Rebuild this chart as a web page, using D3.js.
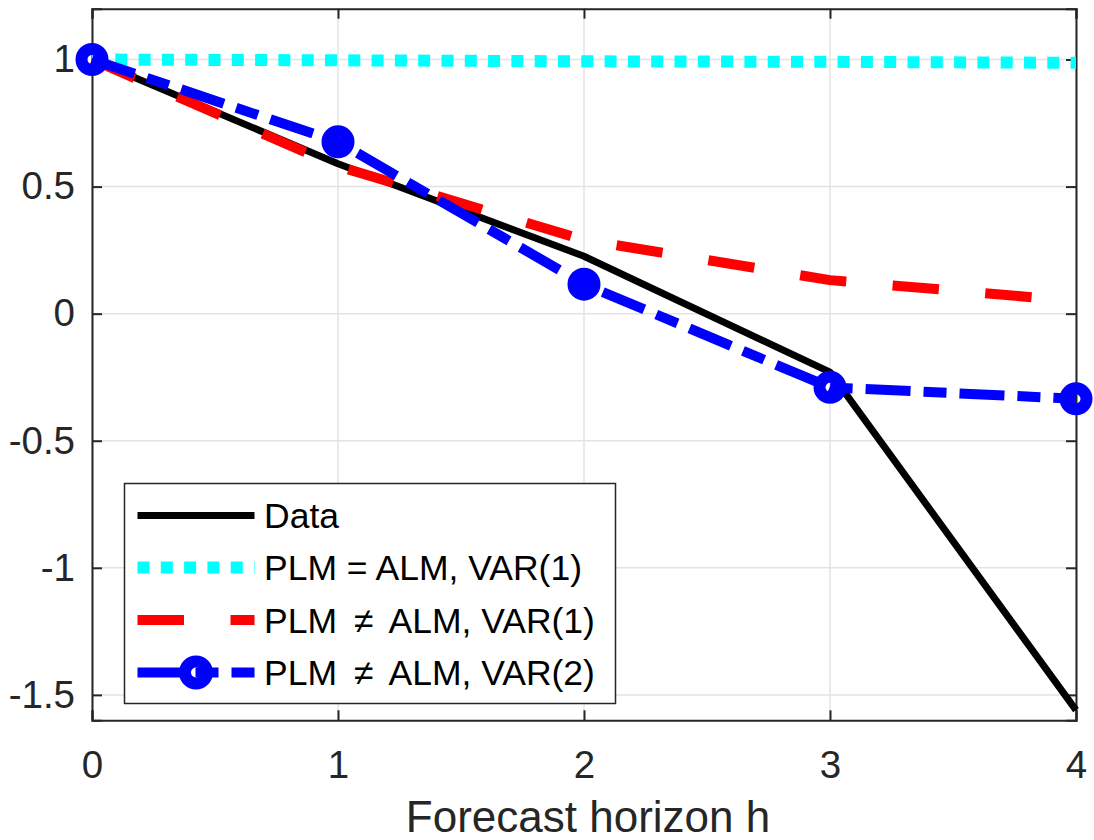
<!DOCTYPE html>
<html>
<head>
<meta charset="UTF-8">
<script src="https://d3js.org/d3.v7.min.js"></script>
<style>
  body { margin: 0; background: #fff; }
  text { font-family: "Liberation Sans", Arial, Helvetica, sans-serif; fill: #262626; }
</style>
</head>
<body>
<div id="chart"></div>
<script>
// horizons and series
const horizons = [0, 1, 2, 3, 4];
const dataSeries = [1, 0.59, 0.226, -0.23, -1.56];
const plmEqAlmVar1 = [1, 0.997, 0.993, 0.991, 0.987];
const plmNeAlmVar1 = [1, 0.58, 0.29, 0.132, 0.05];
const plmNeAlmVar2 = [1, 0.676, 0.116, -0.29, -0.335];
const xTicks = [0, 1, 2, 3, 4];
const yTicks = [-1.5, -1, -0.5, 0, 0.5, 1];
const legendLabels = ["Data", "PLM = ALM, VAR(1)", "PLM \u2009\u2260\u2009 ALM, VAR(1)", "PLM \u2009\u2260\u2009 ALM, VAR(2)"];

const W = 1094, H = 840;
const pLeft = 92, pRight = 1076, pTop = 8.7, pBottom = 720.3;

const svg = d3.select("#chart").append("svg")
  .attr("width", W).attr("height", H);

const x = d3.scaleLinear().domain([0, 4]).range([pLeft, pRight]);
const y = d3.scaleLinear().domain([-1.6, 1.2]).range([pBottom, pTop]);

// grid
const grid = svg.append("g");
grid.selectAll(".gx").data(xTicks).enter().append("line")
  .attr("x1", d => x(d)).attr("x2", d => x(d))
  .attr("y1", pTop).attr("y2", pBottom)
  .attr("stroke", "#e3e3e3").attr("stroke-width", 1.5);
grid.selectAll(".gy").data(yTicks).enter().append("line")
  .attr("y1", d => y(d)).attr("y2", d => y(d))
  .attr("x1", pLeft).attr("x2", pRight)
  .attr("stroke", "#e3e3e3").attr("stroke-width", 1.5);

// axes, ticks inside on all four sides
const fs = 38.5;
svg.append("g").attr("transform", `translate(0,${pBottom})`)
  .call(d3.axisBottom(x).tickValues(xTicks).tickSize(-10).tickPadding(30).tickFormat(d3.format("d")));
svg.append("g").attr("transform", `translate(${pLeft},0)`)
  .call(d3.axisLeft(y).tickValues(yTicks).tickSize(-10).tickPadding(17).tickFormat(d => String(d)));
svg.append("g").attr("transform", `translate(0,${pTop})`)
  .call(d3.axisTop(x).tickValues(xTicks).tickSize(-10).tickFormat(""));
svg.append("g").attr("transform", `translate(${pRight},0)`)
  .call(d3.axisRight(y).tickValues(yTicks).tickSize(-10).tickFormat(""));

svg.selectAll(".domain").attr("stroke", "#262626").attr("stroke-width", 2);
svg.selectAll(".tick line").attr("stroke", "#262626").attr("stroke-width", 2);
svg.selectAll(".tick text").style("font-size", fs + "px")
  .style("font-family", "'Liberation Sans', Arial, sans-serif").attr("fill", "#262626");

svg.append("text")
  .attr("x", (pLeft + pRight) / 2 + 4).attr("y", 832)
  .attr("text-anchor", "middle")
  .style("font-size", "44px")
  .text("Forecast horizon h");

// lines
const series = [
  {vals: dataSeries, color: "#000000", width: 7, dash: null},
  {vals: plmEqAlmVar1, color: "#00ffff", width: 12, dash: "12,11.3"},
  {vals: plmNeAlmVar1, color: "#ff0000", width: 10, dash: "46.5,46.5"},
  {vals: plmNeAlmVar2, color: "#0000ff", width: 10, dash: "45,13,23,13", marker: true}
];

const line = d3.line().x((d, i) => x(horizons[i])).y(d => y(d));

const plot = svg.append("g");
series.forEach(s => {
  plot.append("path")
    .attr("d", line(s.vals))
    .attr("fill", "none")
    .attr("stroke", s.color)
    .attr("stroke-width", s.width)
    .attr("stroke-dasharray", s.dash)
    .attr("stroke-linejoin", "round");
  if (s.marker) {
    plot.selectAll(".mk").data(s.vals).enter().append("circle")
      .attr("cx", (d, i) => x(horizons[i])).attr("cy", d => y(d))
      .attr("r", 10.5).attr("fill", "none")
      .attr("stroke", s.color).attr("stroke-width", 12);
  }
});

// legend
const lg = svg.append("g");
lg.append("rect").attr("x", 124.5).attr("y", 483.5).attr("width", 491).attr("height", 220)
  .attr("fill", "#fff").attr("stroke", "#262626").attr("stroke-width", 1.5);
const rowY = [515.5, 567.5, 620, 672.5];
series.forEach((s, i) => {
  lg.append("line")
    .attr("x1", 137.5).attr("x2", 254.5)
    .attr("y1", rowY[i]).attr("y2", rowY[i])
    .attr("stroke", s.color).attr("stroke-width", s.width)
    .attr("stroke-dasharray", s.dash);
  if (s.marker) {
    lg.append("circle").attr("cx", 196).attr("cy", rowY[i])
      .attr("r", 11).attr("fill", "none")
      .attr("stroke", s.color).attr("stroke-width", 12);
  }
  lg.append("text")
    .attr("x", 264).attr("y", rowY[i])
    .attr("dy", "0.36em")
    .style("font-size", "35.5px")
    .style("white-space", "pre")
    .style("fill", "#000")
    .text(legendLabels[i]);
});
</script>
</body>
</html>
